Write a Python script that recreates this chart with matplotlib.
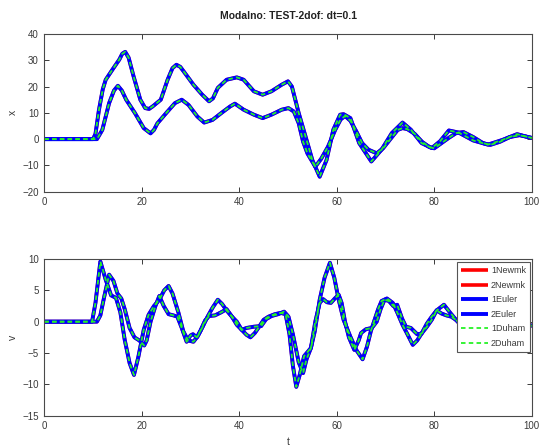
import matplotlib
matplotlib.use("Agg")
import matplotlib.pyplot as plt
import numpy as np

plt.rcParams['font.family'] = ['Liberation Sans', 'DejaVu Sans']

# displacement, DOF 1
t_x1 = [0, 10, 10.5, 11.2, 12, 12.6, 14, 15.4, 16, 16.6, 17.3, 18.3, 19.7, 20.7, 21.5, 22.2,
        23.9, 25.3, 26.3, 27.1, 27.9, 28.9, 30.6, 32.4, 33.8, 34.6, 35.6, 37.4, 39.5, 40.9,
        43, 44.8, 46.6, 48.7, 50, 50.8, 52.2, 53.6, 55, 56.5, 57.9, 59.3, 60.7, 61.4, 62.8,
        64.6, 67.1, 69.2, 71.3, 73.5, 75.2, 77.4, 79.5, 81.2, 83, 85, 88, 91, 94, 97, 100]
x1 = [0, 0, 2, 11, 19, 22.6, 26.5, 30.3, 32.5, 33.2, 31, 24, 15, 11.8, 11.5, 12.4,
      15, 22.6, 27, 28.3, 27.5, 25, 20.7, 16.9, 14.4, 15.5, 19.5, 22.6, 23.5, 22.6,
      18.2, 16.9, 18.2, 20.7, 22, 20, 9.9, 1, -8, -14.3, -8, 3.6, 9.3, 9.5, 8,
      -1.5, -8.5, -4, 2.3, 6.3, 3.6, -1.5, -3.4, -0.8, 3.3, 2.5, -0.5, -2.1, -0.3, 1.9, 0.4]

# displacement, DOF 2
t_x2 = [0, 10.8, 11.9, 13.3, 14.3, 15.1, 15.9, 16.8, 18.6, 20.4, 21.8, 22.5, 23.2, 25, 26.8,
        28.2, 29.6, 31.4, 32.8, 34.5, 36.3, 38.1, 39.1, 40.9, 43, 44.8, 46.6, 48.7, 50.1,
        51.2, 52.2, 53.1, 54, 55.6, 56.8, 58.2, 59.7, 60.8, 61.7, 62.8, 64, 65.2, 66.5,
        68.2, 69.5, 71, 72.5, 73.5, 74.5, 76, 77.5, 79, 80, 81.5, 83, 84.5, 86, 88, 90,
        91.5, 93.5, 95.5, 97.5, 100]
x2 = [0, 0, 3.5, 13.7, 18.5, 20.3, 18.5, 15, 9.9, 4.2, 2.2, 3.5, 6, 9.9, 13.7,
      15, 13, 8.6, 6.3, 7.3, 9.9, 12.4, 13.5, 11.2, 9.3, 8, 9.3, 11.2, 11.8,
      10.5, 6, -1, -5.5, -10.5, -7.5, -2.9, 3.6, 7.5, 8.8, 7, 3, -1.5, -4,
      -5.4, -3.5, 0, 3.5, 4.2, 3.8, 2, -1, -3, -3.5, -1.5, 0.5, 2.3, 2.7, 0.8, -1.5,
      -2.2, -1, 0.8, 1.5, 0.5]

# velocity, DOF 1
t_v1 = [0, 9.8, 10.5, 11.5, 12.6, 13.7, 14.7, 15.6, 16.5, 17.5, 18.4, 19.3, 20.4, 21.4,
        22.5, 23.6, 24.6, 25.5, 26.3, 27.5, 28.5, 29.5, 30.6, 31.5, 32.5, 33.5, 34.5,
        35.6, 36.5, 37.4, 38.5, 39.5, 40.5, 41.5, 42.3, 43.2, 44, 45, 46, 47.3, 48.5,
        49.5, 50.3, 51, 51.7, 52.4, 53.3, 54.7, 55.5, 56.5, 57.5, 58.6, 59.5, 60.4,
        61.4, 62.8, 64, 65.3, 66.2, 67, 68.5, 69.2, 70.3, 71.5, 72.4, 73.5, 74.5, 75.6,
        76.5, 77.4, 78.5, 79.5, 80.5, 82, 83.4, 84.8, 86.5, 88, 90, 91, 92.5, 94, 95.5,
        97, 98.5, 100]
v1 = [0, 0, 3, 9.6, 6.7, 4.2, 3.8, 1.5, -2.9, -6.6, -8.5, -5.6, -1.3, 1.1,
      2.5, 3.5, 5, 5.7, 4.5, 1.5, -1.5, -3, -3.2, -2.3, -0.8, 0.8, 2.2,
      3.5, 2.8, 1.8, 0.8, 0, -1.3, -2.1, -2.5, -1.8, -0.9, 0.3, 0.8, 1.2, 1.4,
      1.2, -2, -7, -10.4, -8.5, -5.5, -4.2, -1.5, 3.5, 7, 9.4, 7, 3.5,
      0.3, -2.4, -4.5, -6, -4, -1.5, 2, 3.3, 3.7, 3, 1.5, -0.5, -2, -3.7,
      -3, -1.9, -0.3, 0.8, 1.8, 2.7, 1.3, 0, -1.3, -1.5, -0.5, 0, 0.9, 1.2, 0.8,
      0, -0.5, -0.7]

# velocity, DOF 2
t_v2 = [0, 10.8, 11.5, 12.3, 13.3, 14.2, 15, 15.8, 16.5, 17.5, 18.5, 19.5, 20.5, 21,
        21.8, 22.8, 23.6, 24.5, 25.5, 26.5, 27.3, 28.2, 29.2, 30, 30.5, 31.3, 32, 33,
        33.8, 35, 36.3, 37.4, 38.5, 39.5, 40.5, 41.5, 43, 44.5, 45.5, 46.6, 48, 49.2,
        50.1, 51, 52.2, 53.1, 53.8, 54.7, 55.6, 56.5, 57.2, 58, 58.8, 59.6, 60.4, 61,
        61.7, 62.5, 63.6, 64.5, 65, 66, 67.2, 68.2, 69, 69.8, 70.7, 71.6, 72.4, 73.4,
        74.2, 75.2, 76.5, 77.4, 78.5, 79.5, 80.5, 81.5, 82.5, 83.5, 85, 87, 89, 91, 93,
        95, 97, 99, 100]
v2 = [0, 0, 1, 4, 7.5, 6.5, 4.5, 3.7, 2, -1, -2.5, -3, -3.8, -3,
      0, 2.5, 4.1, 2.5, 1.2, 1, 0.8, -1, -3.2, -2.2, -2, -2.5, -1.5, 0.2,
      0.9, 1, 1.5, 2, 0.8, -0.5, -1.3, -1, -0.8, -0.7, 0.4, 0.9, 1.2, 1.6,
      0.8, -2, -6.5, -8.2, -6, -4.2, 0, 3, 3.6, 3.1, 3, 3.7, 4.3, 3,
      0, -2.5, -4.5, -3, -1.8, -1.2, -1, 0, 2, 3.5, 3.3, 2.5, 2.7, 0.5,
      -0.8, -1, -2, -1.9, -0.8, 0.3, 1.8, 1.3, 1, 0.8, 0, -1.2, -1.3, -0.2, 0.8,
      1, 0.2, -0.5, -0.6]

labels = ['1Newmk', '2Newmk', '1Euler', '2Euler', '1Duham', '2Duham']
xticks = [0, 20, 40, 60, 80, 100]
xyticks = [-20, -10, 0, 10, 20, 30, 40]
vyticks = [-15, -10, -5, 0, 5, 10]

W, H = 539, 446
fig = plt.figure(figsize=(W / 100, H / 100), dpi=100)

def frac(l, t, r, b):
    return [l / W, 1 - b / H, (r - l) / W, (b - t) / H]

ax1 = fig.add_axes(frac(44.3, 34, 531.7, 191.7))
ax2 = fig.add_axes(frac(44.3, 259, 531.7, 415.7))

red = (1, 0, 0)
blue = (0, 0, 1)
green = (0.15, 0.95, 0.15)

def draw(ax, ta, a, tb, b):
    h = []
    h += ax.plot(ta, a, color=red, lw=2.6, solid_capstyle='butt')
    h += ax.plot(tb, b, color=red, lw=2.6, solid_capstyle='butt')
    h += ax.plot(ta, a, color=blue, lw=2.8, solid_capstyle='butt')
    h += ax.plot(tb, b, color=blue, lw=2.8, solid_capstyle='butt')
    h += ax.plot(ta, a, color=green, lw=1.3, ls=(0, (2.5, 1.8)))
    h += ax.plot(tb, b, color=green, lw=1.3, ls=(0, (2.5, 1.8)))
    return h

draw(ax1, t_x1, x1, t_x2, x2)
hs = draw(ax2, t_v1, v1, t_v2, v2)

tc = '#3a3a3a'
for ax, yt in ((ax1, xyticks), (ax2, vyticks)):
    ax.set_xlim(0, 100)
    ax.set_ylim(yt[0], yt[-1])
    ax.set_xticks(xticks)
    ax.set_yticks(yt)
    ax.tick_params(direction='in', length=3.5, width=0.7, colors=tc, labelsize=7,
                   top=True, right=True, pad=4)
    for s in ax.spines.values():
        s.set_color('#4a4a4a')
        s.set_linewidth(0.8)

ax1.set_ylabel('x', fontsize=7.5, color=tc, labelpad=3)
ax2.set_ylabel('v', fontsize=7.5, color=tc, labelpad=3)
ax2.set_xlabel('t', fontsize=7.5, color=tc, labelpad=4)
ax1.set_title('Modalno: TEST-2dof: dt=0.1', fontsize=7.5, fontweight='bold',
              color='#222222', pad=11)

leg = ax2.legend(hs, labels, loc='upper right',
                 bbox_to_anchor=((530 - 44.3) / 487.4, 1 - 3 / 156.7),
                 borderaxespad=0, fontsize=6.5, frameon=True, fancybox=False,
                 framealpha=1, edgecolor='#555555', handlelength=3.0,
                 handletextpad=0.3, labelspacing=0.62, borderpad=0.45)
leg.get_frame().set_linewidth(0.8)
for txt in leg.get_texts():
    txt.set_color(tc)

fig.savefig('out.png', dpi=100)
